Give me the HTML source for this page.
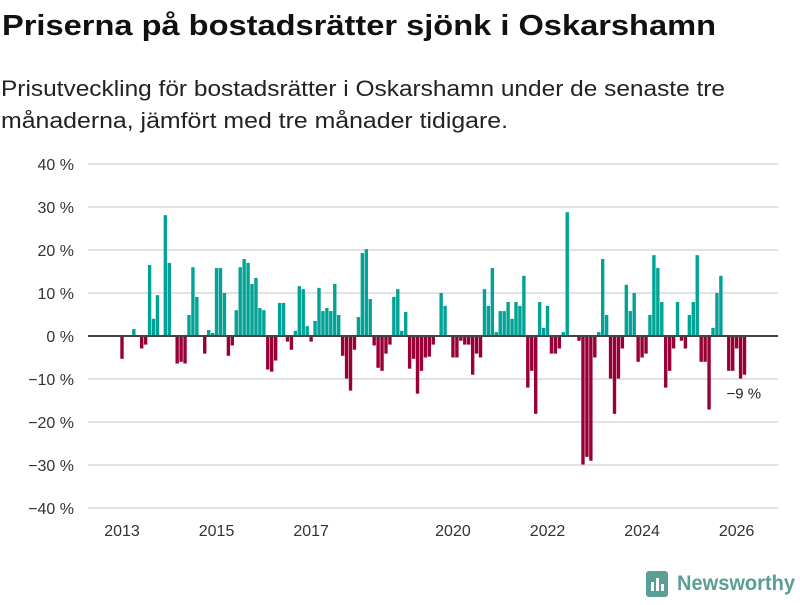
<!DOCTYPE html>
<html><head><meta charset="utf-8"><style>
body{margin:0;background:#fff;width:800px;height:600px;overflow:hidden;font-family:"Liberation Sans",sans-serif}
</style></head><body>
<svg id="chart" width="800" height="600" xmlns="http://www.w3.org/2000/svg" font-family="Liberation Sans, sans-serif">
<text x="2" y="35" font-size="29" font-weight="bold" fill="#111" textLength="714" lengthAdjust="spacingAndGlyphs">Priserna på bostadsrätter sjönk i Oskarshamn</text>
<text x="1" y="96" font-size="22" fill="#222" textLength="724" lengthAdjust="spacingAndGlyphs">Prisutveckling för bostadsrätter i Oskarshamn under de senaste tre</text>
<text x="1" y="128" font-size="22" fill="#222" textLength="507" lengthAdjust="spacingAndGlyphs">månaderna, jämfört med tre månader tidigare.</text>
<g id="grid"></g><g id="bars"></g><g id="axes"></g>
<g>
<rect x="646" y="571" width="22" height="26" rx="3" fill="#5a9e96"/>
<rect x="651" y="582" width="3" height="9" fill="#fff"/><rect x="656" y="578" width="3" height="13" fill="#fff"/><rect x="661" y="584" width="3" height="7" fill="#fff"/>
<text x="677" y="590" font-size="21" font-weight="bold" fill="#5a9e96" textLength="118" lengthAdjust="spacingAndGlyphs">Newsworthy</text>
</g>
</svg>
<script>
const values=[-5.3,0,0,1.6,0,-2.9,-2.0,16.5,4.0,9.5,0,28.1,17.0,0,-6.4,-6.0,-6.4,4.9,16.0,9.1,0,-4.1,1.4,0.7,15.8,15.8,10.0,-4.6,-2.2,6.0,16.0,17.9,17.0,12.1,13.5,6.5,6.0,-7.8,-8.3,-5.7,7.7,7.7,-1.3,-3.2,1.2,11.6,10.9,2.3,-1.3,3.5,11.2,5.8,6.5,5.8,12.1,4.9,-4.6,-9.9,-12.7,-3.2,4.4,19.3,20.2,8.6,-2.2,-7.4,-8.1,-4.1,-2.0,9.1,10.9,1.2,5.6,-7.6,-5.3,-13.4,-8.1,-5.0,-4.8,-2.0,0,10.0,7.0,0,-5.0,-5.0,-1.1,-2.0,-2.0,-9.0,-4.1,-5.0,10.9,7.0,15.8,0.9,5.8,5.8,7.9,4.0,7.9,7.0,14.0,-12.0,-8.1,-18.1,7.9,1.9,7.0,-4.1,-4.1,-2.9,0.9,28.8,0,0,-1.1,-29.9,-28.1,-29.0,-5.0,0.9,17.9,4.9,-9.9,-18.1,-9.9,-2.9,11.9,5.8,10.0,-6.0,-5.0,-4.1,4.9,18.8,15.8,7.9,-12.0,-8.1,-2.9,7.9,-1.1,-2.9,4.9,7.9,18.8,-6.0,-6.0,-17.1,1.9,10.0,14.0,0,-8.1,-8.1,-2.9,-9.9,-9.0];
const startYear=2013;
const yTicks=[40,30,20,10,0,-10,-20,-30,-40];
const xTickYears=[2013,2015,2017,2020,2022,2024,2026];
const lastLabel="−9 %";
const NS="http://www.w3.org/2000/svg";
const y=v=>336-v*4.3;
const x=i=>122+3.94*i;
function mk(t,a,p){const e=document.createElementNS(NS,t);for(const k in a)e.setAttribute(k,a[k]);p.appendChild(e);return e;}
const grid=document.getElementById('grid'),bars=document.getElementById('bars'),axes=document.getElementById('axes');
yTicks.forEach(t=>{
 const l=mk('line',{x1:88,x2:778,y1:y(t),y2:y(t),stroke:'#e2e2e2','stroke-width':2},grid);
 
 
 const tx=mk('text',{x:74,y:y(t)+6,'text-anchor':'end','font-size':16,fill:'#333'},axes);
 tx.textContent=(t<0?'−'+(-t):t)+' %';
 
 
});
values.forEach((v,i)=>{
 if(v===0)return;
 const r=mk('rect',{x:x(i)-1.7,width:3.4,y:Math.min(y(v),y(0)),height:Math.abs(y(v)-y(0)),fill:v>0?'#00a396':'#990038'},bars);
 
 
});
const z=mk('line',{x1:88,x2:778,y1:y(0),y2:y(0),stroke:'#444','stroke-width':2},axes);


xTickYears.forEach(yr=>{
 const i=(yr-startYear)*12;
 const t=mk('text',{x:x(i),y:536,'text-anchor':'middle','font-size':16,fill:'#333'},axes);
 t.textContent=yr;
 
 
});
const li=values.length-1;
const a=mk('text',{x:x(li)-18,y:y(values[li])+24,'font-size':15,fill:'#222'},axes);
a.textContent=lastLabel;


</script>
</body></html>
